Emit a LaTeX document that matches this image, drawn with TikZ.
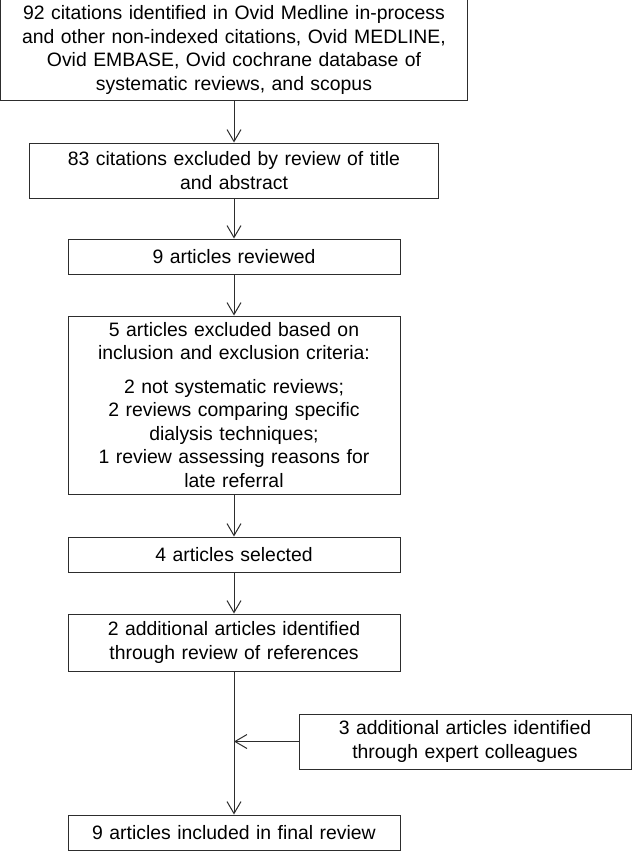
\documentclass[tikz,border=0pt]{standalone}
\usepackage{fontspec}
\setmainfont{Liberation Sans}
\usetikzlibrary{arrows.meta,positioning}
\definecolor{lineclr}{RGB}{45,45,45}

\begin{document}
\begin{tikzpicture}[x=1pt,y=-1pt,
    stage/.style={draw=lineclr, line width=1pt, align=center, inner sep=0pt,
      font=\fontsize{19.4}{23.5}\selectfont},
    arr/.style={draw=lineclr, line width=1pt, -{Straight Barb[length=12pt,width=14pt]}}]
  \useasboundingbox (0,0) rectangle (632,851);
  \node[stage, text width=467pt, minimum height=100pt] (found) at (234,50)
    {92 citations identified in Ovid Medline in-process\\
     and other non-indexed citations, Ovid MEDLINE,\\
     Ovid EMBASE, Ovid cochrane database of\\
     systematic reviews, and scopus};
  \node[stage, text width=409pt, minimum height=55pt] (title) at (234,170.5)
    {83 citations excluded by review of title\\ and abstract};
  \node[stage, text width=332pt, minimum height=35pt] (reviewed) at (234,256.5)
    {9 articles reviewed};
  \node[stage, text width=332pt, minimum height=178pt] (excluded) at (234,405)
    {5 articles excluded based on\\ inclusion and exclusion criteria:\\[10pt]
     2 not systematic reviews;\\ 2 reviews comparing specific\\
     dialysis techniques;\\ 1 review assessing reasons for\\ late referral};
  \node[stage, text width=332pt, minimum height=35pt] (selected) at (234,554.5)
    {4 articles selected};
  \node[stage, text width=332pt, minimum height=57pt] (refs) at (234,642.5)
    {2 additional articles identified\\ through review of references};
  \node[stage, text width=332pt, minimum height=55pt] (experts) at (465,741.5)
    {3 additional articles identified\\ through expert colleagues};
  \node[stage, text width=332pt, minimum height=35pt] (final) at (234,832.5)
    {9 articles included in final review};
  \coordinate (join) at (refs.south |- experts.west);
  % main flow
  \path[arr]
    (found) edge (title)
    (title) edge (reviewed)
    (reviewed) edge (excluded)
    (excluded) edge (selected)
    (selected) edge (refs)
    (refs) edge (final);
  \draw[arr] (experts.west) -- (join);
\end{tikzpicture}
\end{document}
